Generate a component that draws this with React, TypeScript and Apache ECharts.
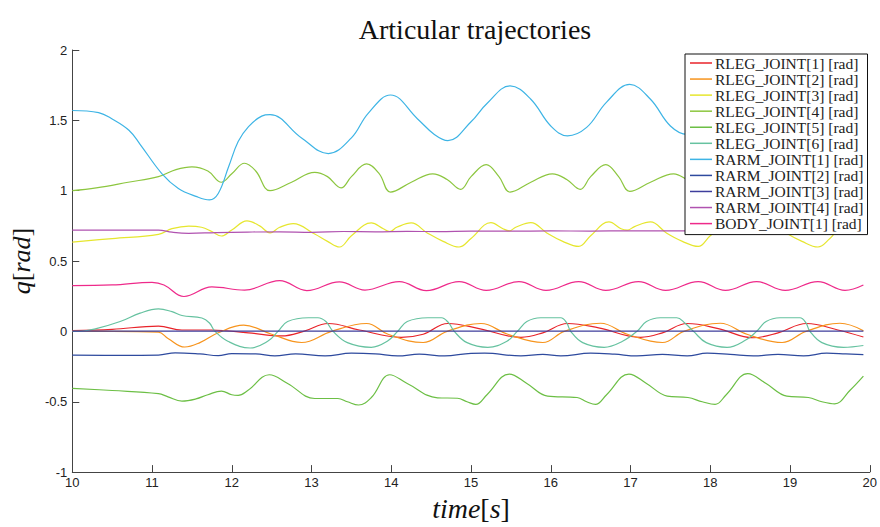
import React, { useEffect, useRef } from "react";
import * as echarts from "echarts";

const seriesNames = [
  "RLEG_JOINT[1] [rad]",
  "RLEG_JOINT[2] [rad]",
  "RLEG_JOINT[3] [rad]",
  "RLEG_JOINT[4] [rad]",
  "RLEG_JOINT[5] [rad]",
  "RLEG_JOINT[6] [rad]",
  "RARM_JOINT[1] [rad]",
  "RARM_JOINT[2] [rad]",
  "RARM_JOINT[3] [rad]",
  "RARM_JOINT[4] [rad]",
  "BODY_JOINT[1] [rad]",
];

const seriesColors = [
  "#e8232a", "#f7941d", "#e6e62e", "#8cc63f", "#6cbf45", "#66c2a0",
  "#3db4e5", "#2e4a9e", "#3e3e9c", "#b052b0", "#ee2a8a",
];

const xTicks = [10, 11, 12, 13, 14, 15, 16, 17, 18, 19, 20];
const yTicks = [-1, -0.5, 0, 0.5, 1, 1.5, 2];

const rleg1 = [[10,0.005],[10.5,0.015],[11.08,0.037],[11.375,0.01],[11.75,0.01],[12.21,-0.01],[12.625,-0.032],[12.9,0.0],[13.21,0.056],[13.6,0.01],[14.125,-0.042],[14.4,-0.02],[14.71,0.056],[15.1,0.02],[15.625,-0.042],[15.9,-0.01],[16.21,0.056],[16.6,0.025],[17.125,-0.042],[17.4,-0.01],[17.71,0.056],[18.1,0.02],[18.54,-0.045],[18.85,-0.01],[19.21,0.056],[19.6,0.01],[19.92,-0.04]];

const rleg2 = [[10,0],[10.5,0],[11.08,-0.005],[11.2,-0.05],[11.41,-0.111],[11.6,-0.08],[11.83,-0.01],[12.15,0.044],[12.5,-0.02],[12.875,-0.079],[13.25,0],[13.69,0.056],[13.96,-0.02],[14.4,-0.079],[14.7,0],[15.125,0.056],[15.46,-0.02],[15.9,-0.079],[16.17,0],[16.625,0.058],[16.96,-0.02],[17.4,-0.079],[17.67,0],[18.125,0.058],[18.46,-0.02],[18.9,-0.079],[19.2,0],[19.625,0.058],[19.92,0.005]];

const rleg3 = [[10,0.635],[10.5,0.66],[11.08,0.69],[11.25,0.73],[11.46,0.748],[11.62,0.74],[11.75,0.71],[11.87,0.678],[12.0,0.72],[12.19,0.785],[12.35,0.75],[12.48,0.7],[12.6,0.74],[12.77,0.766],[13.04,0.692],[13.2,0.64],[13.35,0.6],[13.5,0.68],[13.75,0.771],[13.9,0.73],[13.98,0.71],[14.07,0.74],[14.25,0.771],[14.45,0.7],[14.65,0.64],[14.85,0.6],[15.0,0.66],[15.25,0.773],[15.4,0.73],[15.48,0.715],[15.56,0.74],[15.75,0.773],[15.95,0.7],[16.15,0.64],[16.35,0.604],[16.5,0.68],[16.73,0.778],[16.88,0.73],[16.96,0.72],[17.05,0.745],[17.25,0.778],[17.45,0.7],[17.65,0.64],[17.85,0.604],[18.0,0.68],[18.25,0.775],[18.4,0.73],[18.48,0.715],[18.56,0.74],[18.75,0.775],[18.95,0.7],[19.15,0.64],[19.35,0.6],[19.5,0.66],[19.6,0.72],[19.75,0.77],[19.92,0.74]];

const rleg4 = [[10,1.0],[10.3,1.02],[10.7,1.06],[11.08,1.1],[11.3,1.15],[11.5,1.17],[11.7,1.14],[11.87,1.06],[12.0,1.12],[12.16,1.195],[12.3,1.14],[12.48,1.0],[12.75,1.06],[13.04,1.13],[13.2,1.1],[13.37,1.02],[13.5,1.1],[13.69,1.19],[13.85,1.12],[13.99,0.99],[14.25,1.06],[14.52,1.12],[14.7,1.08],[14.87,1.01],[15.0,1.1],[15.19,1.185],[15.35,1.1],[15.49,0.99],[15.75,1.06],[16.02,1.12],[16.2,1.08],[16.37,1.01],[16.5,1.1],[16.69,1.185],[16.85,1.1],[16.99,0.995],[17.25,1.06],[17.54,1.12],[17.7,1.08],[17.87,1.01],[18.0,1.1],[18.19,1.185],[18.35,1.1],[18.49,0.99],[18.75,1.06],[19.04,1.12],[19.2,1.08],[19.37,1.01],[19.5,1.1],[19.69,1.185],[19.8,1.12],[19.92,1.04]];

const rleg5 = [[10,-0.405],[10.5,-0.42],[11.08,-0.442],[11.2,-0.465],[11.375,-0.495],[11.55,-0.48],[11.7,-0.45],[11.87,-0.424],[12.0,-0.45],[12.08,-0.454],[12.2,-0.42],[12.47,-0.308],[12.7,-0.37],[13.04,-0.477],[13.33,-0.477],[13.45,-0.5],[13.59,-0.523],[13.75,-0.47],[13.98,-0.308],[14.2,-0.37],[14.58,-0.472],[14.83,-0.475],[14.95,-0.5],[15.06,-0.519],[15.2,-0.45],[15.48,-0.303],[15.7,-0.37],[15.96,-0.46],[16.33,-0.47],[16.45,-0.5],[16.56,-0.519],[16.7,-0.45],[16.98,-0.303],[17.2,-0.37],[17.46,-0.46],[17.72,-0.47],[17.9,-0.5],[18.06,-0.519],[18.2,-0.45],[18.47,-0.3],[18.7,-0.37],[18.96,-0.46],[19.23,-0.47],[19.4,-0.5],[19.56,-0.515],[19.75,-0.42],[19.92,-0.318]];

const rleg6 = [[10,0],[10.06,0],[10.3,0.02],[10.6,0.07],[10.85,0.13],[11.08,0.16],[11.25,0.14],[11.375,0.113],[11.625,0.095],[11.72,0.06],[11.79,0],[11.95,-0.07],[12.23,-0.118],[12.45,-0.07],[12.58,0],[12.7,0.07],[12.96,0.097],[13.08,0.097],[13.18,0.07],[13.27,0],[13.45,-0.08],[13.75,-0.113],[13.95,-0.07],[14.08,0],[14.2,0.07],[14.46,0.097],[14.63,0.097],[14.72,0.06],[14.79,0],[14.95,-0.08],[15.21,-0.113],[15.45,-0.07],[15.58,0],[15.7,0.07],[15.875,0.097],[16.125,0.097],[16.2,0.06],[16.25,0],[16.4,-0.08],[16.67,-0.113],[16.9,-0.07],[17.08,0],[17.2,0.07],[17.375,0.097],[17.58,0.097],[17.68,0.06],[17.79,0],[17.95,-0.08],[18.21,-0.113],[18.45,-0.06],[18.58,0],[18.7,0.07],[18.875,0.097],[19.125,0.097],[19.2,0.06],[19.25,0],[19.4,-0.08],[19.67,-0.113],[19.92,-0.1]];

const rarm1 = [[10,1.57],[10.33,1.555],[10.5,1.51],[10.71,1.43],[10.85,1.33],[11.125,1.12],[11.33,1.016],[11.55,0.96],[11.72,0.935],[11.83,0.98],[11.96,1.17],[12.08,1.35],[12.21,1.456],[12.375,1.53],[12.48,1.54],[12.875,1.375],[13.21,1.264],[13.5,1.375],[13.71,1.55],[13.99,1.68],[14.33,1.51],[14.54,1.4],[14.71,1.356],[15.0,1.49],[15.2,1.62],[15.49,1.745],[15.75,1.65],[16.0,1.46],[16.21,1.39],[16.45,1.45],[16.7,1.63],[16.99,1.755],[17.25,1.65],[17.5,1.46],[17.71,1.4],[17.95,1.46],[18.2,1.64],[18.49,1.755],[18.75,1.65],[19.0,1.46],[19.21,1.4],[19.45,1.46],[19.7,1.64],[19.92,1.74]];

const rarm2 = [[10,-0.168],[10.6,-0.17],[11.08,-0.168],[11.29,-0.152],[11.6,-0.16],[11.83,-0.172],[12.0,-0.158],[12.3,-0.16],[12.54,-0.174],[12.8,-0.16],[13.17,-0.174],[13.5,-0.155],[13.8,-0.16],[14.08,-0.174],[14.35,-0.162],[14.67,-0.174],[15.0,-0.156],[15.17,-0.155],[15.625,-0.174],[15.9,-0.163],[16.125,-0.174],[16.5,-0.155],[16.8,-0.162],[17.08,-0.174],[17.4,-0.163],[17.71,-0.174],[17.96,-0.155],[18.25,-0.163],[18.54,-0.174],[18.85,-0.163],[19.17,-0.174],[19.46,-0.155],[19.7,-0.16],[19.92,-0.165]];

const rarm3 = [[10,0.002],[15,0.002],[19.92,0.002]];

const rarm4 = [[10,0.72],[10.5,0.72],[11.08,0.72],[11.25,0.705],[11.46,0.697],[11.8,0.702],[12.2,0.706],[12.6,0.708],[13.0,0.704],[13.4,0.71],[13.8,0.708],[14.2,0.711],[14.6,0.709],[15.0,0.713],[15.5,0.712],[16.0,0.714],[16.5,0.713],[17.0,0.715],[17.5,0.714],[18.0,0.716],[18.5,0.715],[19.0,0.717],[19.5,0.716],[19.92,0.717]];

const body1 = [[10,0.326],[10.5,0.33],[11.0,0.349],[11.15,0.33],[11.4,0.248],[11.75,0.316],[12.16,0.294],[12.6,0.361],[12.94,0.29],[13.35,0.352],[13.67,0.294],[14.1,0.354],[14.44,0.29],[14.85,0.354],[15.19,0.292],[15.6,0.354],[15.94,0.292],[16.35,0.354],[16.69,0.292],[17.1,0.354],[17.44,0.292],[17.85,0.354],[18.19,0.292],[18.58,0.354],[18.94,0.292],[19.35,0.354],[19.69,0.292],[19.92,0.33]];

const allData = [rleg1, rleg2, rleg3, rleg4, rleg5, rleg6, rarm1, rarm2, rarm3, rarm4, body1];

const SERIF = "'Liberation Serif', 'DejaVu Serif', serif";
const SANS = "'Liberation Sans', Arial, sans-serif";

export default function App() {
  const ref = useRef<HTMLDivElement>(null);
  useEffect(() => {
    document.body.style.margin = "0";
    if (!ref.current) return;
    const chart = echarts.init(ref.current, null, { renderer: "svg" });
    const xRich = {
      i: { fontFamily: SERIF, fontStyle: "italic", fontSize: 28, color: "#111" },
      n: { fontFamily: SERIF, fontSize: 28, color: "#111" },
    };
    const yRich = {
      i: { fontFamily: SERIF, fontStyle: "italic", fontSize: 26, color: "#111" },
      n: { fontFamily: SERIF, fontSize: 26, color: "#111" },
    };
    chart.setOption({
      animation: false,
      backgroundColor: "#fff",
      title: {
        text: "Articular trajectories",
        left: 470,
        top: 10,
        textAlign: "center",
        textStyle: { fontFamily: SERIF, fontSize: 28, fontWeight: "normal", color: "#111" },
      },
      grid: { left: 70, width: 800, top: 50, height: 432, containLabel: false },
      legend: {
        orient: "vertical",
        left: 685,
        top: 54,
        padding: [1, 4, 3, 5],
        itemGap: 0.06,
        itemWidth: 22,
        itemHeight: 1.5,
        icon: "rect",
        backgroundColor: "#fff",
        borderColor: "#111",
        borderWidth: 1,
        data: seriesNames,
        textStyle: { fontFamily: SERIF, fontSize: 15.5, lineHeight: 16, color: "#222", padding: [0, 0, 0, -2] },
      },
      xAxis: {
        type: "value",
        min: xTicks[0],
        max: xTicks[xTicks.length - 1],
        interval: 1,
        name: "{i|time}{n|[}{i|s}{n|]}",
        nameLocation: "middle",
        nameGap: 12,
        nameTextStyle: { rich: xRich, verticalAlign: "top" },
        axisLine: { show: true, onZero: false, lineStyle: { color: "#444", width: 1 } },
        axisTick: { show: true, inside: true, length: 7, lineStyle: { color: "#444" } },
        axisLabel: { fontFamily: SANS, fontSize: 13, color: "#222", margin: 4, formatter: (v: number) => String(v) },
        splitLine: { show: false },
      },
      yAxis: {
        type: "value",
        min: yTicks[0],
        max: yTicks[yTicks.length - 1],
        interval: 0.5,
        name: "{i|q}{n|[}{i|rad}{n|]}",
        nameLocation: "middle",
        nameGap: 38,
        nameRotate: 90,
        nameTextStyle: { rich: yRich },
        axisLine: { show: true, onZero: false, lineStyle: { color: "#444", width: 1 } },
        axisTick: { show: true, inside: true, length: 7, lineStyle: { color: "#444" } },
        axisLabel: { fontFamily: SANS, fontSize: 13, color: "#222", margin: 5, formatter: (v: number) => String(v) },
        splitLine: { show: false },
      },
      series: seriesNames.map((name, i) => ({
        name,
        type: "line",
        data: allData[i],
        smooth: 0.4,
        showSymbol: false,
        symbol: "none",
        color: seriesColors[i],
        lineStyle: { color: seriesColors[i], width: 1.2 },
        itemStyle: { color: seriesColors[i] },
      })),
    });
    return () => chart.dispose();
  }, []);
  return <div ref={ref} style={{ width: 880, height: 527 }} />;
}
